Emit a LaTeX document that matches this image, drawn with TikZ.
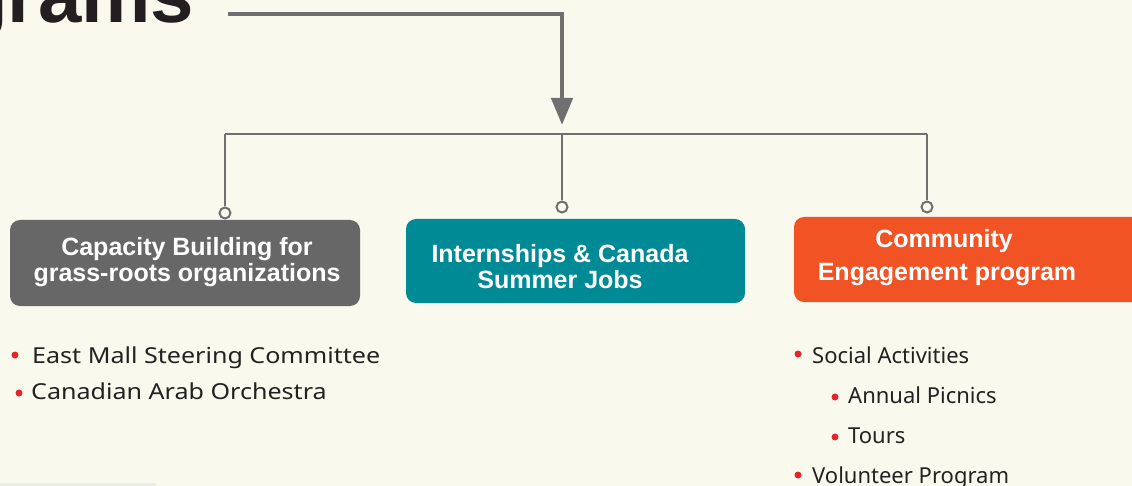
\documentclass[tikz,border=0pt]{standalone}
\usepackage{fontspec}
\setmainfont{Noto Sans}
\newfontfamily\titlefont{Liberation Sans}
\newfontfamily\boxfont{Liberation Sans Bold}
\newfontfamily\widefont{Noto Sans}[FakeStretch=1.14]
\usetikzlibrary{arrows.meta}
\definecolor{bgc}{HTML}{F9F9EE}
\definecolor{linec}{HTML}{707070}
\definecolor{grayboxc}{HTML}{666766}
\definecolor{tealc}{HTML}{008A96}
\definecolor{orangec}{HTML}{F15325}
\definecolor{bulletc}{HTML}{E5242B}
\definecolor{textc}{HTML}{222222}
\definecolor{titlec}{HTML}{231F20}
\definecolor{stripc}{HTML}{EDEDE8}
\tikzset{
  mainline/.style={draw=linec, line width=4.5pt, -{Triangle[width=21pt,length=27pt]}},
  branch/.style={draw=linec, line width=2.5pt},
  knob/.style={circle, draw=linec, line width=2pt, fill=bgc, minimum size=11pt, inner sep=0pt},
  boxshape/.style={rounded corners=10pt, inner sep=0pt, anchor=north west},
  boxtext/.style={text=white, font=\boxfont\fontsize{25}{28}\selectfont, anchor=base, inner sep=0pt},
  listtext/.style={text=textc, font=\fontsize{22}{26}\selectfont, anchor=base west, inner sep=0pt},
  widelisttext/.style={text=textc, font=\widefont\fontsize{22}{26}\selectfont, anchor=base west, inner sep=0pt},
  dot/.style={circle, fill=bulletc, minimum size=7pt, inner sep=0pt},
}
\begin{document}
\begin{tikzpicture}[x=1pt,y=-1pt]
\useasboundingbox (0,0) rectangle (1132,486);
\clip (0,0) rectangle (1132,486);
\fill[bgc] (0,0) rectangle (1132,486);
\fill[stripc] (0,483) rectangle (156,486);
% title
\node[anchor=base west, inner sep=0pt, text=titlec, font=\titlefont\fontsize{78}{80}\selectfont\bfseries] (title) at (-40,23) {grams};
% main arrow
\coordinate (start) at (228,14);
\coordinate (corner) at (562,14);
\coordinate (tip) at (562,125);
\draw[mainline] (start) -- (corner) -- (tip);
% branch
\coordinate (bl) at (225,134);
\coordinate (bm) at (562,134);
\coordinate (br) at (927,134);
\draw[branch] (bl) -- (br);
% boxes
\fill[grayboxc, rounded corners=10pt] (10,220) rectangle (360,306);
\node[boxshape, minimum width=350pt, minimum height=86pt] (box1) at (10,220) {};
\fill[tealc, rounded corners=10pt] (406,219) rectangle (745,303);
\node[boxshape, minimum width=339pt, minimum height=84pt] (box2) at (406,219) {};
\fill[orangec, rounded corners=10pt] (794,217) rectangle (1150,302);
\node[boxshape, minimum width=356pt, minimum height=85pt] (box3) at (794,217) {};
% knobs
\node[knob] (k1) at (225,213) {};
\node[knob] (k2) at (562,207) {};
\node[knob] (k3) at (927,207) {};
\draw[branch] (bl) -- (k1.north);
\draw[branch] (bm) -- (k2.north);
\draw[branch] (br) -- (k3.north);
% box texts
\node[boxtext] (t1a) at (187,256) {Capacity Building for};
\node[boxtext] (t1b) at (187,282) {grass-roots organizations};
\node[boxtext] (t2a) at (560,263) {Internships \& Canada};
\node[boxtext] (t2b) at (560,288) {Summer Jobs};
\node[boxtext] (t3a) at (944,248) {Community};
\node[boxtext] (t3b) at (947,280) {Engagement program};
% left list
\node[dot] (d1) at (15,355) {};
\node[widelisttext] (l1) at (32,363) {East Mall Steering Committee};
\node[dot] (d2) at (19,393) {};
\node[widelisttext] (l2) at (31,399) {Canadian Arab Orchestra};
% right list
\node[dot] (d3) at (798,354) {};
\node[listtext] (r1) at (812,363) {Social Activities};
\node[dot] (d4) at (835,397) {};
\node[listtext] (r2) at (848,403) {Annual Picnics};
\node[dot] (d5) at (835,437) {};
\node[listtext] (r3) at (848,443) {Tours};
\node[dot] (d6) at (798,475) {};
\node[listtext] (r4) at (812,483) {Volunteer Program};
\end{tikzpicture}
\end{document}
